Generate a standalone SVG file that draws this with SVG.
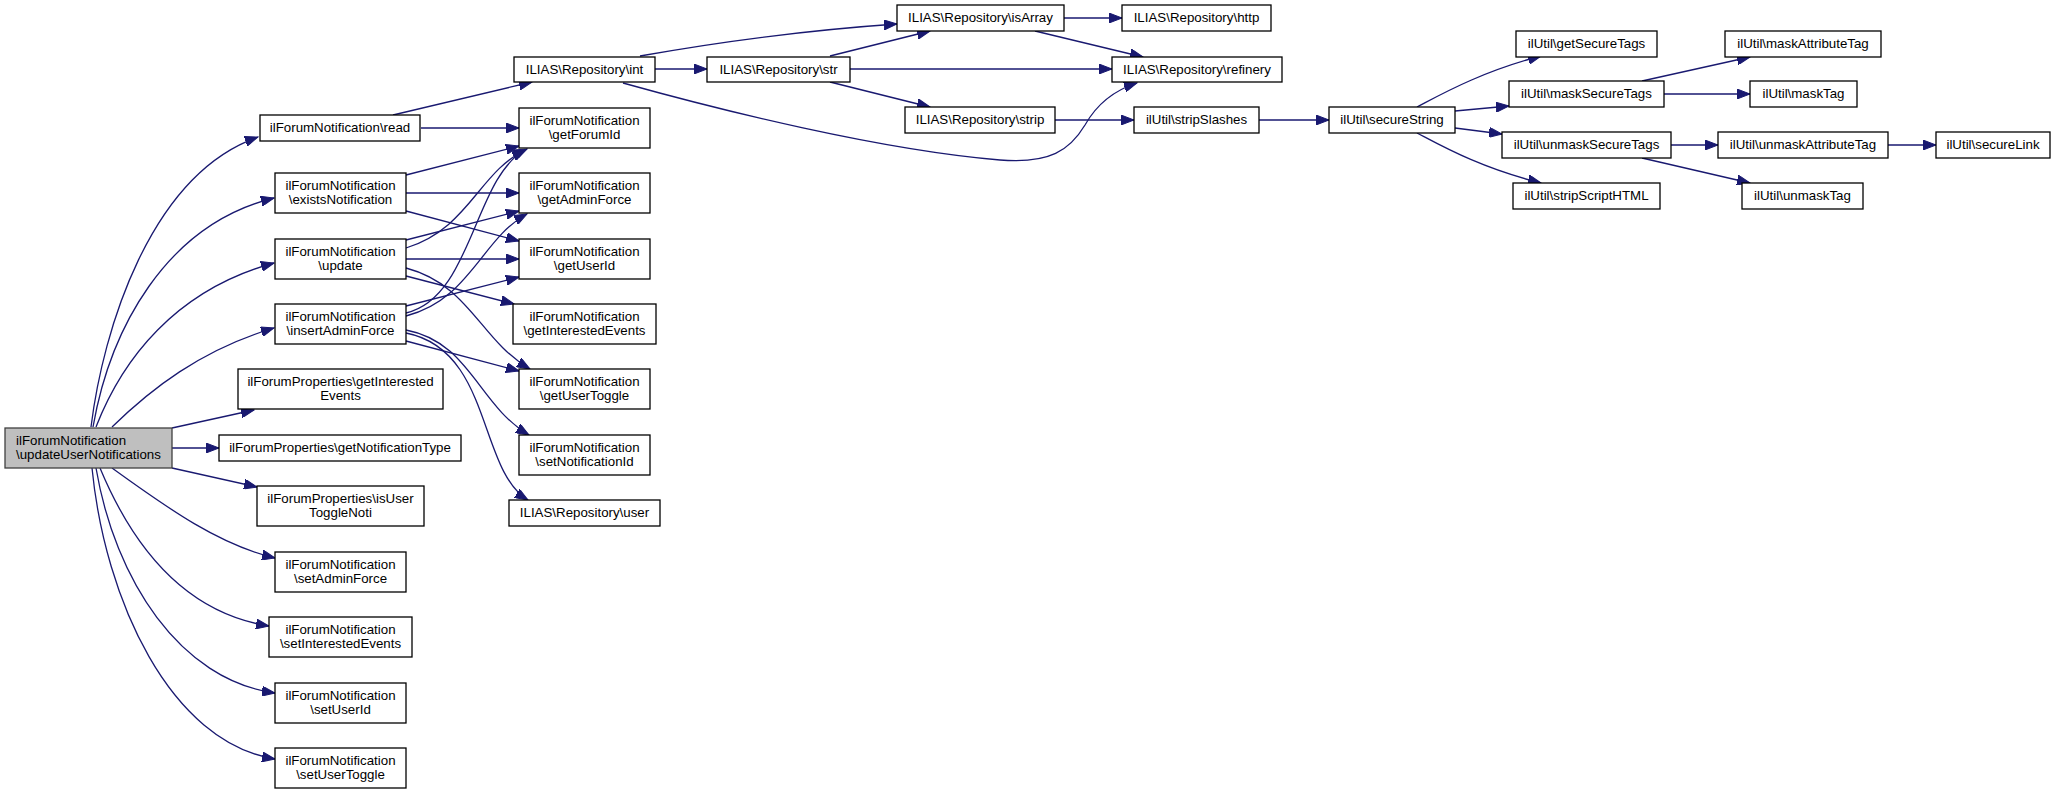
<svg xmlns="http://www.w3.org/2000/svg" width="2056" height="794" viewBox="0 0 2056 794">
<defs>
<marker id="ah" markerUnits="userSpaceOnUse" markerWidth="14" markerHeight="10" refX="13" refY="5" orient="auto">
<path d="M0,0 L13,5 L0,10 z" fill="#191970" stroke="#191970" stroke-width="1"/>
</marker>
<style>
.n rect{fill:#ffffff;stroke:#000000;stroke-width:1.3}
.root rect{fill:#bfbfbf;stroke:#404040;stroke-width:1.3}
text{font-family:"Liberation Sans",Arial,sans-serif;font-size:13.3px;fill:#000000}
.c{text-anchor:middle}
.e path{fill:none;stroke:#191970;stroke-width:1.3;marker-end:url(#ah)}
</style>
</defs>
<rect width="2056" height="794" fill="#ffffff"/>
<g class="e" id="edges">
<path d="M91,427 C103,330 150,175 258,137"/>
<path d="M93,427 C110,330 165,225 274,198"/>
<path d="M96,427 C122,360 175,290 274,263"/>
<path d="M112,427 C150,390 200,350 274,328"/>
<path d="M172,428 L254,410"/>
<path d="M172,448 L219,448"/>
<path d="M172,468 L257,487"/>
<path d="M112,468 C170,510 220,545 275,558"/>
<path d="M100,468 C130,540 180,612 269,626"/>
<path d="M96,468 C115,580 180,680 275,693"/>
<path d="M92,468 C105,600 170,742 275,759"/>
<path d="M393,115 L532,82"/>
<path d="M421,128 L519,128"/>
<path d="M406,175 L519,146"/>
<path d="M406,193 L519,193"/>
<path d="M406,211 L519,241"/>
<path d="M406,240 L519,211"/>
<path d="M406,248 C470,228 478,172 527,149"/>
<path d="M406,259 L519,259"/>
<path d="M406,276 L514,304"/>
<path d="M406,268 C470,285 480,340 530,369"/>
<path d="M406,306 L519,277"/>
<path d="M406,313 C472,298 474,178 525,150"/>
<path d="M406,316 C470,300 482,238 527,214"/>
<path d="M406,341 L519,371"/>
<path d="M406,330 C470,342 478,405 529,435"/>
<path d="M406,333 C492,350 478,470 528,500"/>
<path d="M640,56 C730,40 810,30 897,24"/>
<path d="M655,69 L707,69"/>
<path d="M623,83 C720,110 880,150 1000,160 C1050,164 1070,150 1085,125 C1098,102 1115,90 1137,83"/>
<path d="M830,56 L930,31"/>
<path d="M850,69 L1112,69"/>
<path d="M830,82 L930,107"/>
<path d="M1064,18 L1122,18"/>
<path d="M1035,31 L1143,57"/>
<path d="M1055,120 L1134,120"/>
<path d="M1259,120 L1329,120"/>
<path d="M1417,107 C1440,95 1480,72 1541,56"/>
<path d="M1455,111 L1509,106"/>
<path d="M1455,128 L1502,134"/>
<path d="M1417,133 C1440,145 1480,168 1541,183"/>
<path d="M1642,81 L1750,57"/>
<path d="M1664,94 L1750,94"/>
<path d="M1671,145 L1718,145"/>
<path d="M1642,158 L1750,183"/>
<path d="M1888,145 L1936,145"/>
</g>
<g class="root" id="n_root"><rect x="5" y="428" width="167" height="40"/><text x="16" y="444.5">ilForumNotification</text><text x="16" y="459">\updateUserNotifications</text></g>
<g class="n" id="n_read"><rect x="260" y="115" width="160" height="26"/><text class="c" x="340" y="132">ilForumNotification\read</text></g>
<g class="n" id="n_exists"><rect x="275" y="173" width="131" height="40"/><text class="c" x="340.5" y="189.5">ilForumNotification</text><text class="c" x="340.5" y="204">\existsNotification</text></g>
<g class="n" id="n_update"><rect x="275" y="239" width="131" height="40"/><text class="c" x="340.5" y="255.5">ilForumNotification</text><text class="c" x="340.5" y="270">\update</text></g>
<g class="n" id="n_insert"><rect x="275" y="304" width="131" height="40"/><text class="c" x="340.5" y="320.5">ilForumNotification</text><text class="c" x="340.5" y="335">\insertAdminForce</text></g>
<g class="n" id="n_propInterested"><rect x="238" y="369" width="205" height="40"/><text class="c" x="340.5" y="385.5">ilForumProperties\getInterested</text><text class="c" x="340.5" y="400">Events</text></g>
<g class="n" id="n_notifType"><rect x="219" y="435" width="242" height="26"/><text class="c" x="340" y="452">ilForumProperties\getNotificationType</text></g>
<g class="n" id="n_isUserToggle"><rect x="257" y="486" width="167" height="40"/><text class="c" x="340.5" y="502.5">ilForumProperties\isUser</text><text class="c" x="340.5" y="517">ToggleNoti</text></g>
<g class="n" id="n_setAdminForce"><rect x="275" y="552" width="131" height="40"/><text class="c" x="340.5" y="568.5">ilForumNotification</text><text class="c" x="340.5" y="583">\setAdminForce</text></g>
<g class="n" id="n_setInterested"><rect x="269" y="617" width="143" height="40"/><text class="c" x="340.5" y="633.5">ilForumNotification</text><text class="c" x="340.5" y="648">\setInterestedEvents</text></g>
<g class="n" id="n_setUserId"><rect x="275" y="683" width="131" height="40"/><text class="c" x="340.5" y="699.5">ilForumNotification</text><text class="c" x="340.5" y="714">\setUserId</text></g>
<g class="n" id="n_setUserToggle"><rect x="275" y="748" width="131" height="40"/><text class="c" x="340.5" y="764.5">ilForumNotification</text><text class="c" x="340.5" y="779">\setUserToggle</text></g>
<g class="n" id="n_int"><rect x="514" y="57" width="141" height="25"/><text class="c" x="584.5" y="73.5">ILIAS\Repository\int</text></g>
<g class="n" id="n_getForumId"><rect x="519" y="108" width="131" height="40"/><text class="c" x="584.5" y="124.5">ilForumNotification</text><text class="c" x="584.5" y="139">\getForumId</text></g>
<g class="n" id="n_getAdminForce"><rect x="519" y="173" width="131" height="40"/><text class="c" x="584.5" y="189.5">ilForumNotification</text><text class="c" x="584.5" y="204">\getAdminForce</text></g>
<g class="n" id="n_getUserId"><rect x="519" y="239" width="131" height="40"/><text class="c" x="584.5" y="255.5">ilForumNotification</text><text class="c" x="584.5" y="270">\getUserId</text></g>
<g class="n" id="n_getInterested"><rect x="513" y="304" width="143" height="40"/><text class="c" x="584.5" y="320.5">ilForumNotification</text><text class="c" x="584.5" y="335">\getInterestedEvents</text></g>
<g class="n" id="n_getUserToggle"><rect x="519" y="369" width="131" height="40"/><text class="c" x="584.5" y="385.5">ilForumNotification</text><text class="c" x="584.5" y="400">\getUserToggle</text></g>
<g class="n" id="n_setNotificationId"><rect x="519" y="435" width="131" height="40"/><text class="c" x="584.5" y="451.5">ilForumNotification</text><text class="c" x="584.5" y="466">\setNotificationId</text></g>
<g class="n" id="n_user"><rect x="509" y="500" width="151" height="26"/><text class="c" x="584.5" y="517">ILIAS\Repository\user</text></g>
<g class="n" id="n_isArray"><rect x="897" y="5" width="167" height="26"/><text class="c" x="980.5" y="22">ILIAS\Repository\isArray</text></g>
<g class="n" id="n_http"><rect x="1122" y="5" width="149" height="26"/><text class="c" x="1196.5" y="22">ILIAS\Repository\http</text></g>
<g class="n" id="n_str"><rect x="707" y="57" width="143" height="25"/><text class="c" x="778.5" y="73.5">ILIAS\Repository\str</text></g>
<g class="n" id="n_refinery"><rect x="1112" y="57" width="170" height="25"/><text class="c" x="1197" y="73.5">ILIAS\Repository\refinery</text></g>
<g class="n" id="n_strip"><rect x="905" y="107" width="150" height="26"/><text class="c" x="980" y="124">ILIAS\Repository\strip</text></g>
<g class="n" id="n_stripSlashes"><rect x="1134" y="107" width="125" height="26"/><text class="c" x="1196.5" y="124">ilUtil\stripSlashes</text></g>
<g class="n" id="n_secureString"><rect x="1329" y="107" width="126" height="26"/><text class="c" x="1392" y="124">ilUtil\secureString</text></g>
<g class="n" id="n_getSecureTags"><rect x="1516" y="31" width="141" height="26"/><text class="c" x="1586.5" y="48">ilUtil\getSecureTags</text></g>
<g class="n" id="n_maskSecureTags"><rect x="1509" y="81" width="155" height="26"/><text class="c" x="1586.5" y="98">ilUtil\maskSecureTags</text></g>
<g class="n" id="n_unmaskSecureTags"><rect x="1502" y="132" width="169" height="26"/><text class="c" x="1586.5" y="149">ilUtil\unmaskSecureTags</text></g>
<g class="n" id="n_stripScriptHTML"><rect x="1513" y="183" width="147" height="26"/><text class="c" x="1586.5" y="200">ilUtil\stripScriptHTML</text></g>
<g class="n" id="n_maskAttributeTag"><rect x="1725" y="31" width="156" height="26"/><text class="c" x="1803" y="48">ilUtil\maskAttributeTag</text></g>
<g class="n" id="n_maskTag"><rect x="1750" y="81" width="107" height="26"/><text class="c" x="1803.5" y="98">ilUtil\maskTag</text></g>
<g class="n" id="n_unmaskAttributeTag"><rect x="1718" y="132" width="170" height="26"/><text class="c" x="1803" y="149">ilUtil\unmaskAttributeTag</text></g>
<g class="n" id="n_unmaskTag"><rect x="1742" y="183" width="121" height="26"/><text class="c" x="1802.5" y="200">ilUtil\unmaskTag</text></g>
<g class="n" id="n_secureLink"><rect x="1936" y="132" width="114" height="26"/><text class="c" x="1993" y="149">ilUtil\secureLink</text></g>
</svg>
